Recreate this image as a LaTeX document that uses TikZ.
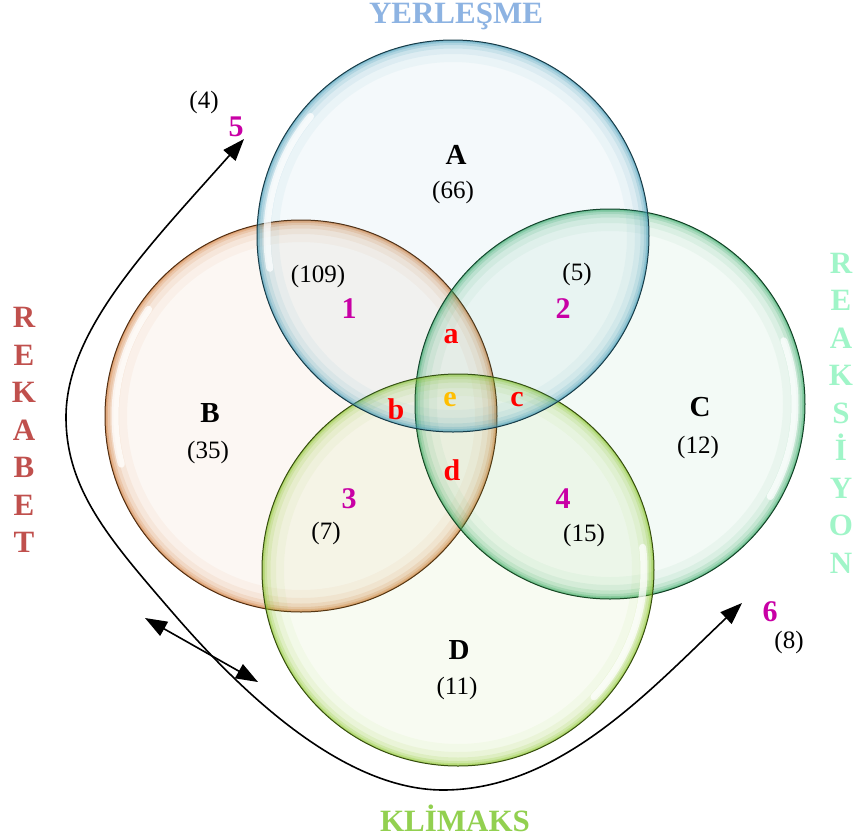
\documentclass[tikz,border=0pt]{standalone}
\usepackage{fontspec}
\setmainfont{Liberation Serif}
\usetikzlibrary{arrows.meta,calc}
\definecolor{colA}{RGB}{60,150,180}
\definecolor{colB}{RGB}{205,115,45}
\definecolor{colC}{RGB}{45,165,95}
\definecolor{colD}{RGB}{135,195,35}
\definecolor{tYer}{RGB}{141,179,226}
\definecolor{tRek}{RGB}{192,80,77}
\definecolor{tRea}{RGB}{160,245,200}
\definecolor{tKli}{RGB}{146,208,80}
\definecolor{mag}{RGB}{200,0,165}
\definecolor{orn}{RGB}{255,190,0}
\newcommand\mybubble[4]{%
  \begin{scope}
    \clip (#1) circle[radius=#3 pt];
    \fill[#2, opacity=0.06] (#1) circle[radius=#3 pt];
    \foreach \w/\o in {44/0.05, 28/0.08, 17/0.12, 10/0.18, 5.5/0.25, 2.5/0.35}
      \draw[#2, line width=\w pt, opacity=\o] (#1) circle[radius=#3 pt];
    \draw[white, line width=7pt, opacity=0.75, line cap=round]
      ($(#1)+(#4-25:#3-10)$) arc[start angle=#4-25, end angle=#4+25, radius=#3-10];
  \end{scope}
  \draw[#2!40!black, line width=1pt] (#1) circle[radius=#3 pt];
}
\tikzset{
  title/.style={font=\fontsize{31}{37.5}\selectfont\bfseries, align=center, inner sep=0pt},
  setname/.style={font=\fontsize{29}{34}\selectfont\bfseries, inner sep=0pt},
  count/.style={font=\fontsize{25}{30}\selectfont, inner sep=0pt},
  region/.style={font=\fontsize{30}{34}\selectfont\bfseries, text=mag, inner sep=0pt},
  inter/.style={font=\fontsize{30}{34}\selectfont\bfseries, text=red, inner sep=0pt},
  arr/.style={line width=1.6pt, {Triangle[length=22pt,width=16pt]}-{Triangle[length=22pt,width=16pt]}}
}
\begin{document}
\begin{tikzpicture}[x=1pt,y=-1pt]
\useasboundingbox (0,0) rectangle (855,839);
\coordinate (cA) at (453,236);
\coordinate (cB) at (301,416);
\coordinate (cC) at (610,404);
\coordinate (cD) at (458,570);
\mybubble{cB}{colB}{196}{-170}
\mybubble{cC}{colC}{195}{5}
\mybubble{cD}{colD}{196}{18}
\mybubble{cA}{colA}{196}{-165}

% titles
\node[title, text=tYer] (tY) at (456,16) {YERLEŞME};
\node[title, text=tKli] (tK) at (455,818) {KLİMAKS};
\node[title, text=tRek] (tR) at (24,430) {R\\E\\K\\A\\B\\E\\T};
\node[title, text=tRea] (tS) at (841,413) {R\\E\\A\\K\\S\\İ\\Y\\O\\N};

% set names
\node[setname] (nA) at (456,155) {A};
\node[count] (kA) at (453,192) {(66)};
\node[setname] (nB) at (210,413) {B};
\node[count] (kB) at (208,452) {(35)};
\node[setname] (nC) at (700,407) {C};
\node[count] (kC) at (698,447) {(12)};
\node[setname] (nD) at (459,650) {D};
\node[count] (kD) at (457,688) {(11)};

% region numbers
\node[count] (k1) at (318,276) {(109)};
\node[region] (r1) at (349,309) {1};
\node[count] (k2) at (577,274) {(5)};
\node[region] (r2) at (563,309) {2};
\node[region] (r3) at (349,499) {3};
\node[count] (k3) at (326,533) {(7)};
\node[region] (r4) at (563,499) {4};
\node[count] (k4) at (584,535) {(15)};
\node[count] (k5) at (204,102) {(4)};
\node[region] (r5) at (236,127) {5};
\node[region] (r6) at (770,612) {6};
\node[count] (k6) at (789,642) {(8)};

% intersections
\node[inter] (ia) at (451,337) {a};
\node[inter] (ib) at (396,409) {b};
\node[inter] (ic) at (517,400) {c};
\node[inter] (id) at (452,470) {d};
\node[inter, text=orn] (ie) at (450,400) {e};

% arrows
\coordinate (p5) at (244,139);
\coordinate (p6) at (742,603);
\coordinate (q1) at (66,417);
\coordinate (q2) at (173,613);
\coordinate (q3) at (443,790);
\draw[arr] (p5) .. controls (150,245) and (66,330) .. (q1)
  .. controls (66,490) and (110,540) .. (q2)
  .. controls (236,686) and (340,790) .. (q3)
  .. controls (560,790) and (650,690) .. (p6);
\coordinate (s1) at (145,618);
\coordinate (s2) at (258,682);
\draw[arr] (s1) -- (s2);
\end{tikzpicture}
\end{document}
